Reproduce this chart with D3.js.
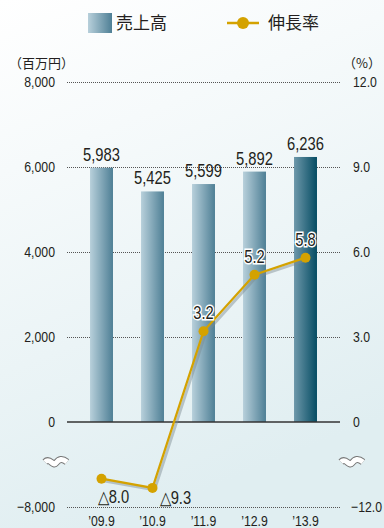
<!DOCTYPE html>
<html>
<head>
<meta charset="utf-8">
<script src="https://cdn.jsdelivr.net/npm/d3@7"></script>
<style>
  body { margin: 0; background: #fff; }
  svg { display: block; }
  text { font-family: "Liberation Sans", Arial, sans-serif; fill: #231f20; }
  .jp { font-family: "Noto Sans CJK JP", sans-serif; }
</style>
</head>
<body>
<svg width="384" height="528"></svg>
<script>
var years = ["’09.9", "’10.9", "’11.9", "’12.9", "’13.9"];
var sales = [5983, 5425, 5599, 5892, 6236];
var growth = [-8.0, -9.3, 3.2, 5.2, 5.8];
var leftTicks = [-8000, 0, 2000, 4000, 6000, 8000];
var rightTicks = [-12, 0, 3, 6, 9, 12];

var svg = d3.select("svg"),
    width = +svg.attr("width"),
    height = +svg.attr("height");
var narrow = 0.82;

// condensed text: squeeze horizontally
function tr(x, y) { return "translate(" + x + "," + y + ") scale(" + narrow + ",1)"; }

var defs = svg.append("defs");
var bg = defs.append("linearGradient").attr("id", "bg")
    .attr("x1", 0).attr("y1", 0).attr("x2", 0.3).attr("y2", 1);
bg.append("stop").attr("offset", "0%").attr("stop-color", "#ffffff");
bg.append("stop").attr("offset", "30%").attr("stop-color", "#f6fafb");
bg.append("stop").attr("offset", "100%").attr("stop-color", "#e0eef1");

var barGrad = defs.append("linearGradient").attr("id", "bar");
barGrad.append("stop").attr("offset", "0%").attr("stop-color", "#b8d0db");
barGrad.append("stop").attr("offset", "100%").attr("stop-color", "#4e7f95");
var lastGrad = defs.append("linearGradient").attr("id", "barLast");
lastGrad.append("stop").attr("offset", "0%").attr("stop-color", "#6e98aa");
lastGrad.append("stop").attr("offset", "100%").attr("stop-color", "#054c63");

svg.append("rect").attr("width", width).attr("height", height).attr("fill", "url(#bg)");

// scales: broken axis below zero
var x = d3.scaleBand().domain(years).range([76, 331]).paddingInner(0.55).paddingOuter(0.275);
var yL = d3.scaleLinear().domain([-8000, 0, 8000]).range([507, 422, 82]);
var yR = d3.scaleLinear().domain([-12, 0, 12]).range([507, 422, 82]);
var x0 = 67, x1 = 340;

// gridlines
svg.append("g").selectAll("line")
    .data(leftTicks.filter(function(d) { return d != 0; }))
    .enter().append("line")
    .attr("x1", x0).attr("x2", x1)
    .attr("y1", function(d) { return yL(d) + 0.5; })
    .attr("y2", function(d) { return yL(d) + 0.5; })
    .attr("stroke", "#555").attr("stroke-width", 1).attr("stroke-dasharray", "1,1");

// bars
svg.append("g").selectAll("rect")
    .data(sales)
    .enter().append("rect")
    .attr("x", function(d, i) { return x(years[i]); })
    .attr("y", function(d) { return yL(d); })
    .attr("width", x.bandwidth())
    .attr("height", function(d) { return yL(0) - yL(d); })
    .attr("fill", function(d, i) { return i == sales.length - 1 ? "url(#barLast)" : "url(#bar)"; });

// zero line
svg.append("line").attr("x1", x0).attr("x2", x1)
    .attr("y1", yL(0)).attr("y2", yL(0))
    .attr("stroke", "#333").attr("stroke-width", 1.5);

// bar value labels
svg.append("g").selectAll("text")
    .data(sales)
    .enter().append("text")
    .attr("transform", function(d, i) { return tr(x(years[i]) + x.bandwidth() / 2, yL(d) - 7); })
    .attr("text-anchor", "middle")
    .attr("font-size", 18)
    .text(function(d) { return d3.format(",")(d); });

// axis tick labels
svg.append("g").selectAll("text")
    .data(leftTicks)
    .enter().append("text")
    .attr("transform", function(d) { return tr(55, yL(d) + 5); })
    .attr("text-anchor", "end").attr("font-size", 15)
    .text(function(d) { return d3.format(",")(d); });
svg.append("g").selectAll("text")
    .data(rightTicks)
    .enter().append("text")
    .attr("transform", function(d) { return tr(d < 0 ? 351 : 353, yR(d) + 5); })
    .attr("text-anchor", "start").attr("font-size", 15)
    .text(function(d) { return d == 0 ? "0" : d3.format(".1f")(d); });

svg.append("text").attr("class", "jp").attr("x", 9).attr("y", 68)
    .attr("font-size", 13).text("（百万円）");
svg.append("text").attr("class", "jp").attr("x", 343).attr("y", 68)
    .attr("font-size", 13).text("（%）");

// x labels
svg.append("g").selectAll("text")
    .data(years)
    .enter().append("text")
    .attr("transform", function(d) { return tr(x(d) + x.bandwidth() / 2, 526); })
    .attr("text-anchor", "middle").attr("font-size", 15)
    .text(function(d) { return d; });

// break marks
function wave(cx, cy) {
    return "M" + (cx - 11) + "," + (cy - 1) +
        " C" + (cx - 6) + "," + (cy - 6) + " " + (cx - 3) + "," + (cy + 4) + " " + cx + "," + (cy) +
        " C" + (cx + 3) + "," + (cy - 4) + " " + (cx + 6) + "," + (cy - 5) + " " + (cx + 11) + "," + (cy - 1);
}
[56, 352].forEach(function(cx) {
    svg.append("path").attr("d", wave(cx, 463)).attr("fill", "none")
        .attr("stroke", "#777").attr("stroke-width", 7);
    svg.append("path").attr("d", wave(cx, 463)).attr("fill", "none")
        .attr("stroke", "#fff").attr("stroke-width", 5);
});

// growth line
var cx = function(d, i) { return x(years[i]) + x.bandwidth() / 2; };
var line = d3.line().x(cx).y(function(d) { return yR(d); });
svg.append("path").datum(growth).attr("d", line)
    .attr("transform", "translate(2,2)")
    .attr("fill", "none").attr("stroke", "#7a8a90").attr("stroke-opacity", 0.45).attr("stroke-width", 3);
svg.append("path").datum(growth).attr("d", line)
    .attr("fill", "none").attr("stroke", "#d4a200").attr("stroke-width", 2.2);
svg.append("g").selectAll("circle")
    .data(growth)
    .enter().append("circle")
    .attr("cx", cx).attr("cy", function(d) { return yR(d); })
    .attr("r", 5).attr("fill", "#d4a200");

// growth labels
var gl = [
    {dx: 12, dy: 24},
    {dx: 23, dy: 16},
    {dx: 0, dy: -12},
    {dx: 0, dy: -12},
    {dx: 0, dy: -12}
];
svg.append("g").selectAll("text")
    .data(growth)
    .enter().append("text")
    .attr("transform", function(d, i) { return tr(cx(d, i) + gl[i].dx, yR(d) + gl[i].dy); })
    .attr("text-anchor", "middle").attr("font-size", 18)
    .attr("stroke", function(d) { return d < 0 ? "none" : "#fff"; })
    .attr("stroke-width", 3).attr("paint-order", "stroke")
    .text(function(d) { return d < 0 ? "△" + d3.format(".1f")(-d) : d3.format(".1f")(d); });

// legend
svg.append("rect").attr("x", 88).attr("y", 13).attr("width", 24).attr("height", 20)
    .attr("fill", "url(#bar)");
svg.append("text").attr("class", "jp").attr("x", 116).attr("y", 29)
    .attr("font-size", 17).text("売上高");
svg.append("line").attr("x1", 227).attr("x2", 259).attr("y1", 23).attr("y2", 23)
    .attr("stroke", "#d4a200").attr("stroke-width", 2.5);
svg.append("circle").attr("cx", 243).attr("cy", 23).attr("r", 6).attr("fill", "#d4a200");
svg.append("text").attr("class", "jp").attr("x", 268).attr("y", 29)
    .attr("font-size", 17).text("伸長率");
</script>
</body>
</html>
